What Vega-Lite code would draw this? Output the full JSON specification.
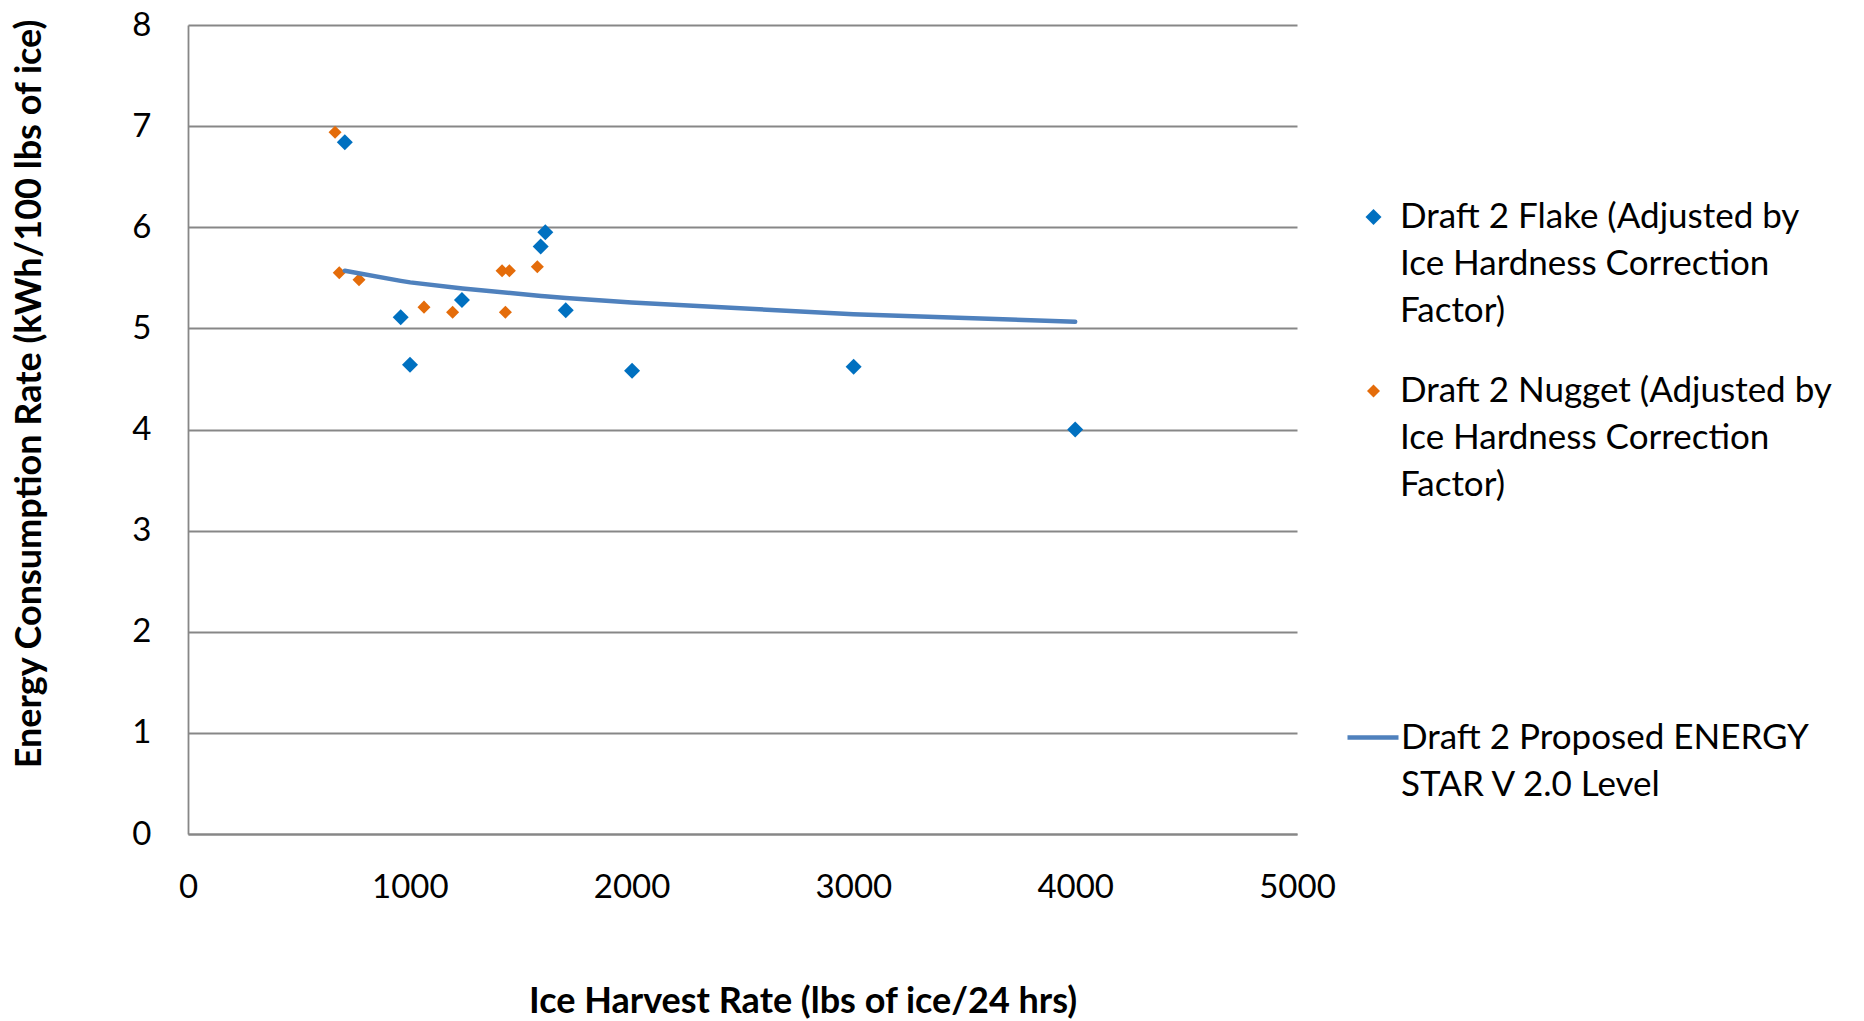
{
  "$schema": "https://vega.github.io/schema/vega-lite/v6.json",
  "width": 1109,
  "height": 809,
  "autosize": {"type": "none"},
  "padding": {"left": 188, "top": 25, "right": 567, "bottom": 187},
  "background": "white",
  "config": {
    "view": {"stroke": null},
    "font": "Lato",
    "style": {"guide-label": {"lineHeight": 47}}
  },
  "layer": [
    {
      "data": {
        "values": [
          {"series": "Draft 2 Flake (Adjusted by Ice Hardness Correction Factor)", "harvest": 707, "energy": 6.84},
          {"series": "Draft 2 Flake (Adjusted by Ice Hardness Correction Factor)", "harvest": 1611, "energy": 5.95},
          {"series": "Draft 2 Flake (Adjusted by Ice Hardness Correction Factor)", "harvest": 1590, "energy": 5.81},
          {"series": "Draft 2 Flake (Adjusted by Ice Hardness Correction Factor)", "harvest": 959, "energy": 5.11},
          {"series": "Draft 2 Flake (Adjusted by Ice Hardness Correction Factor)", "harvest": 1001, "energy": 4.64},
          {"series": "Draft 2 Flake (Adjusted by Ice Hardness Correction Factor)", "harvest": 1235, "energy": 5.28},
          {"series": "Draft 2 Flake (Adjusted by Ice Hardness Correction Factor)", "harvest": 1703, "energy": 5.18},
          {"series": "Draft 2 Flake (Adjusted by Ice Hardness Correction Factor)", "harvest": 2002, "energy": 4.58},
          {"series": "Draft 2 Flake (Adjusted by Ice Hardness Correction Factor)", "harvest": 3001, "energy": 4.62},
          {"series": "Draft 2 Flake (Adjusted by Ice Hardness Correction Factor)", "harvest": 4000, "energy": 4.0},
          {"series": "Draft 2 Nugget (Adjusted by Ice Hardness Correction Factor)", "harvest": 663, "energy": 6.94},
          {"series": "Draft 2 Nugget (Adjusted by Ice Hardness Correction Factor)", "harvest": 682, "energy": 5.55},
          {"series": "Draft 2 Nugget (Adjusted by Ice Hardness Correction Factor)", "harvest": 771, "energy": 5.48},
          {"series": "Draft 2 Nugget (Adjusted by Ice Hardness Correction Factor)", "harvest": 1064, "energy": 5.21},
          {"series": "Draft 2 Nugget (Adjusted by Ice Hardness Correction Factor)", "harvest": 1193, "energy": 5.16},
          {"series": "Draft 2 Nugget (Adjusted by Ice Hardness Correction Factor)", "harvest": 1416, "energy": 5.57},
          {"series": "Draft 2 Nugget (Adjusted by Ice Hardness Correction Factor)", "harvest": 1449, "energy": 5.57},
          {"series": "Draft 2 Nugget (Adjusted by Ice Hardness Correction Factor)", "harvest": 1431, "energy": 5.16},
          {"series": "Draft 2 Nugget (Adjusted by Ice Hardness Correction Factor)", "harvest": 1575, "energy": 5.61}
        ]
      },
      "mark": {"type": "point", "shape": "diamond", "filled": true, "opacity": 1, "strokeWidth": 0},
      "encoding": {
        "x": {
          "field": "harvest",
          "type": "quantitative",
          "scale": {"domain": [0, 5000], "nice": false},
          "axis": {
            "values": [0, 1000, 2000, 3000, 4000, 5000],
            "format": "d",
            "grid": false,
            "ticks": false,
            "tickSize": 0,
            "domainColor": "#878787",
            "domainWidth": 1.8,
            "labelPadding": 37,
            "labelFont": "Lato",
            "labelFontSize": 33,
            "labelColor": "black",
            "labelFlush": false,
            "labelOverlap": false,
            "title": "Ice Harvest Rate (lbs of ice/24 hrs)",
            "titleFont": "Lato",
            "titleFontSize": 36,
            "titleFontWeight": "bold",
            "titleColor": "black",
            "titleX": 614.6,
            "titleY": 178,
            "titleAlign": "center",
            "titleBaseline": "alphabetic"
          }
        },
        "y": {
          "field": "energy",
          "type": "quantitative",
          "scale": {"domain": [0, 8], "nice": false},
          "axis": {
            "values": [0, 1, 2, 3, 4, 5, 6, 7, 8],
            "format": "d",
            "grid": true,
            "gridColor": "#878787",
            "gridWidth": 1.8,
            "domainColor": "#878787",
            "domainWidth": 1.8,
            "ticks": false,
            "tickSize": 0,
            "labelPadding": 37,
            "labelFont": "Lato",
            "labelFontSize": 33,
            "labelColor": "black",
            "labelFlush": false,
            "labelOverlap": false,
            "title": "Energy Consumption Rate (kWh/100 lbs of ice)",
            "titleFont": "Lato",
            "titleFontSize": 36,
            "titleFontWeight": "bold",
            "titleColor": "black",
            "titleX": -148,
            "titleY": 368.5,
            "titleAngle": -90,
            "titleAlign": "center",
            "titleBaseline": "alphabetic"
          }
        },
        "color": {
          "field": "series",
          "type": "nominal",
          "scale": {
            "domain": ["Draft 2 Flake (Adjusted by Ice Hardness Correction Factor)", "Draft 2 Nugget (Adjusted by Ice Hardness Correction Factor)"],
            "range": ["#0070C0", "#E46C0A"]
          },
          "legend": {
            "title": null,
            "orient": "none",
            "legendX": 1168,
            "legendY": 174.5,
            "padding": 0,
            "symbolType": "diamond",
            "symbolSize": 256,
            "symbolStrokeWidth": 0,
            "labelFont": "Lato",
            "labelFontSize": 35,
            "labelColor": "black",
            "labelLimit": 2000,
            "labelOffset": 9,
            "rowPadding": 44,
            "labelExpr": "indexof(datum.label, 'Flake') >= 0 ? ['Draft 2 Flake (Adjusted by', 'Ice Hardness Correction', 'Factor)'] : ['Draft 2 Nugget (Adjusted by', 'Ice Hardness Correction', 'Factor)']"
          }
        },
        "size": {
          "field": "series",
          "type": "nominal",
          "scale": {
            "domain": ["Draft 2 Flake (Adjusted by Ice Hardness Correction Factor)", "Draft 2 Nugget (Adjusted by Ice Hardness Correction Factor)"],
            "range": [256, 170]
          },
          "legend": null
        }
      }
    },
    {
      "data": {
        "values": [
          {"series": "Draft 2 Proposed ENERGY STAR V 2.0 Level", "harvest": 707, "energy": 5.57},
          {"series": "Draft 2 Proposed ENERGY STAR V 2.0 Level", "harvest": 959, "energy": 5.47},
          {"series": "Draft 2 Proposed ENERGY STAR V 2.0 Level", "harvest": 1002, "energy": 5.455},
          {"series": "Draft 2 Proposed ENERGY STAR V 2.0 Level", "harvest": 1238, "energy": 5.395},
          {"series": "Draft 2 Proposed ENERGY STAR V 2.0 Level", "harvest": 1592, "energy": 5.32},
          {"series": "Draft 2 Proposed ENERGY STAR V 2.0 Level", "harvest": 1608, "energy": 5.317},
          {"series": "Draft 2 Proposed ENERGY STAR V 2.0 Level", "harvest": 1704, "energy": 5.3},
          {"series": "Draft 2 Proposed ENERGY STAR V 2.0 Level", "harvest": 2000, "energy": 5.257},
          {"series": "Draft 2 Proposed ENERGY STAR V 2.0 Level", "harvest": 3000, "energy": 5.139},
          {"series": "Draft 2 Proposed ENERGY STAR V 2.0 Level", "harvest": 4000, "energy": 5.066}
        ]
      },
      "mark": {"type": "line", "strokeWidth": 4.5, "strokeCap": "round", "strokeJoin": "round"},
      "encoding": {
        "x": {"field": "harvest", "type": "quantitative"},
        "y": {"field": "energy", "type": "quantitative"},
        "stroke": {
          "field": "series",
          "type": "nominal",
          "scale": {"range": ["#4F81BD"]},
          "legend": {
            "title": null,
            "orient": "none",
            "legendX": 1157,
            "legendY": 684.5,
            "padding": 0,
            "symbolType": "stroke",
            "symbolSize": 2601,
            "symbolStrokeWidth": 4.5,
            "labelFont": "Lato",
            "labelFontSize": 35,
            "labelColor": "black",
            "labelLimit": 2000,
            "labelOffset": 0,
            "labelExpr": "['Draft 2 Proposed ENERGY', 'STAR V 2.0 Level']"
          }
        }
      }
    }
  ]
}
